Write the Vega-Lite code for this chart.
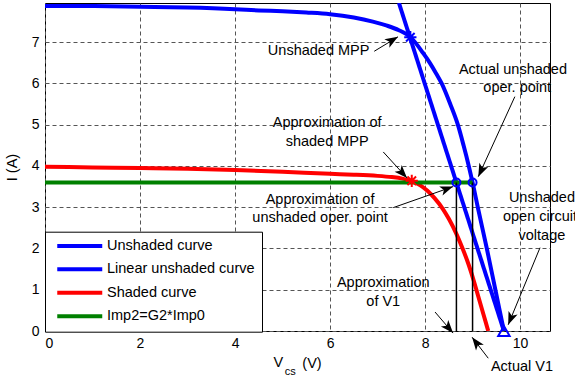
{
  "$schema": "https://vega.github.io/schema/vega-lite/v6.json",
  "width": 505,
  "height": 328,
  "autosize": {"type": "none"},
  "padding": {"left": 45, "top": 3, "right": 25, "bottom": 50},
  "background": "white",
  "config": {
    "font": "Liberation Sans",
    "view": {"stroke": "black", "strokeWidth": 1},
    "axis": {
      "grid": true,
      "gridColor": "#555555",
      "gridDash": [4, 3],
      "gridWidth": 1,
      "domain": false,
      "ticks": false,
      "labelFontSize": 14,
      "labelColor": "black",
      "labelFont": "Liberation Sans",
      "titleFont": "Liberation Sans",
      "titleFontSize": 14.5,
      "titleFontWeight": "normal",
      "titleColor": "black"
    },
    "text": {"font": "Liberation Sans", "fontSize": 14.5, "color": "black"}
  },
  "datasets": {
    "curves": [
      {"series": "Unshaded curve", "V": 0, "I": 7.88},
      {"series": "Unshaded curve", "V": 1, "I": 7.875},
      {"series": "Unshaded curve", "V": 2, "I": 7.86},
      {"series": "Unshaded curve", "V": 3, "I": 7.84},
      {"series": "Unshaded curve", "V": 4, "I": 7.8},
      {"series": "Unshaded curve", "V": 4.5, "I": 7.77},
      {"series": "Unshaded curve", "V": 5, "I": 7.75},
      {"series": "Unshaded curve", "V": 5.5, "I": 7.72},
      {"series": "Unshaded curve", "V": 6, "I": 7.68},
      {"series": "Unshaded curve", "V": 6.5, "I": 7.6},
      {"series": "Unshaded curve", "V": 6.9, "I": 7.5},
      {"series": "Unshaded curve", "V": 7.2, "I": 7.4},
      {"series": "Unshaded curve", "V": 7.45, "I": 7.29},
      {"series": "Unshaded curve", "V": 7.6, "I": 7.2},
      {"series": "Unshaded curve", "V": 7.69, "I": 7.12},
      {"series": "Unshaded curve", "V": 7.79, "I": 7.0},
      {"series": "Unshaded curve", "V": 7.95, "I": 6.75},
      {"series": "Unshaded curve", "V": 8.1, "I": 6.5},
      {"series": "Unshaded curve", "V": 8.23, "I": 6.25},
      {"series": "Unshaded curve", "V": 8.35, "I": 6.0},
      {"series": "Unshaded curve", "V": 8.53, "I": 5.5},
      {"series": "Unshaded curve", "V": 8.69, "I": 5.0},
      {"series": "Unshaded curve", "V": 8.81, "I": 4.5},
      {"series": "Unshaded curve", "V": 8.92, "I": 4.0},
      {"series": "Unshaded curve", "V": 9.0, "I": 3.6},
      {"series": "Unshaded curve", "V": 9.11, "I": 3.0},
      {"series": "Unshaded curve", "V": 9.3, "I": 2.0},
      {"series": "Unshaded curve", "V": 9.48, "I": 1.0},
      {"series": "Unshaded curve", "V": 9.66, "I": 0},
      {"series": "Linear unshaded curve", "V": 7.45, "I": 7.95},
      {"series": "Linear unshaded curve", "V": 9.66, "I": 0},
      {"series": "Shaded curve", "V": 0, "I": 3.98},
      {"series": "Shaded curve", "V": 1, "I": 3.965},
      {"series": "Shaded curve", "V": 2, "I": 3.95},
      {"series": "Shaded curve", "V": 3, "I": 3.93},
      {"series": "Shaded curve", "V": 4, "I": 3.9},
      {"series": "Shaded curve", "V": 5, "I": 3.86},
      {"series": "Shaded curve", "V": 6, "I": 3.81},
      {"series": "Shaded curve", "V": 6.5, "I": 3.79},
      {"series": "Shaded curve", "V": 7, "I": 3.76},
      {"series": "Shaded curve", "V": 7.3, "I": 3.73},
      {"series": "Shaded curve", "V": 7.5, "I": 3.7},
      {"series": "Shaded curve", "V": 7.72, "I": 3.63},
      {"series": "Shaded curve", "V": 7.9, "I": 3.53},
      {"series": "Shaded curve", "V": 8.05, "I": 3.4},
      {"series": "Shaded curve", "V": 8.2, "I": 3.22},
      {"series": "Shaded curve", "V": 8.38, "I": 2.95},
      {"series": "Shaded curve", "V": 8.5, "I": 2.72},
      {"series": "Shaded curve", "V": 8.65, "I": 2.38},
      {"series": "Shaded curve", "V": 8.79, "I": 2.0},
      {"series": "Shaded curve", "V": 8.92, "I": 1.6},
      {"series": "Shaded curve", "V": 9.03, "I": 1.2},
      {"series": "Shaded curve", "V": 9.13, "I": 0.8},
      {"series": "Shaded curve", "V": 9.23, "I": 0.4},
      {"series": "Shaded curve", "V": 9.33, "I": 0},
      {"series": "Imp2=G2*Imp0", "V": 0, "I": 3.6},
      {"series": "Imp2=G2*Imp0", "V": 9.0, "I": 3.6}
    ],
    "vlines": [
      {"V": 8.66, "I": 0, "I2": 3.6},
      {"V": 9.0, "I": 0, "I2": 3.6}
    ],
    "arrows": [
      {"V": 6.93, "I": 6.78, "V2": 7.43, "I2": 7.13, "angle": 59},
      {"V": 9.89, "I": 5.68, "V2": 9.12, "I2": 3.74, "angle": 205},
      {"V": 7.12, "I": 4.34, "V2": 7.62, "I2": 3.71, "angle": 137},
      {"V": 7.33, "I": 2.99, "V2": 8.59, "I2": 3.5, "angle": 70},
      {"V": 10.42, "I": 2.02, "V2": 9.75, "I2": 0.15, "angle": 202},
      {"V": 8.21, "I": 0.46, "V2": 8.59, "I2": -0.05, "angle": 139},
      {"V": 9.33, "I": -0.66, "V2": 8.99, "I2": -0.15, "angle": 323}
    ],
    "labels": [
      {"V": 5.76, "I": 6.78, "text": "Unshaded MPP"},
      {"V": 9.85, "I": 6.33, "text": "Actual unshaded"},
      {"V": 9.94, "I": 5.9, "text": "oper. point"},
      {"V": 5.94, "I": 5.05, "text": "Approximation of"},
      {"V": 5.94, "I": 4.59, "text": "shaded MPP"},
      {"V": 5.79, "I": 3.18, "text": "Approximation of"},
      {"V": 5.79, "I": 2.74, "text": "unshaded oper. point"},
      {"V": 10.46, "I": 3.23, "text": "Unshaded"},
      {"V": 10.42, "I": 2.77, "text": "open circuit"},
      {"V": 10.46, "I": 2.31, "text": "voltage"},
      {"V": 7.12, "I": 1.17, "text": "Approximation"},
      {"V": 7.12, "I": 0.7, "text": "of V1"},
      {"V": 10.04, "I": -0.87, "text": "Actual V1"},
      {"V": 4.91, "I": -0.78, "text": "V"},
      {"V": 5.62, "I": -0.8, "text": "(V)"}
    ]
  },
  "encoding": {
    "x": {
      "field": "V",
      "type": "quantitative",
      "scale": {"domain": [0, 10.63], "nice": false, "zero": false},
      "axis": {"values": [0, 2, 4, 6, 8, 10], "title": null, "labelPadding": 5}
    },
    "y": {
      "field": "I",
      "type": "quantitative",
      "scale": {"domain": [0, 7.95], "nice": false, "zero": false},
      "axis": {"values": [0, 1, 2, 3, 4, 5, 6, 7], "title": "I (A)", "labelPadding": 6, "titlePadding": 12}
    }
  },
  "layer": [
    {
      "data": {"name": "curves"},
      "mark": {"type": "line", "strokeWidth": 4, "clip": true, "interpolate": "monotone"},
      "encoding": {
        "color": {
          "field": "series",
          "type": "nominal",
          "scale": {
            "domain": ["Unshaded curve", "Linear unshaded curve", "Shaded curve", "Imp2=G2*Imp0"],
            "range": ["#0000ff", "#0000ff", "#ff0000", "#008000"]
          },
          "legend": {
            "orient": "none",
            "legendX": 0,
            "legendY": 228.7,
            "title": null,
            "symbolType": "M-0.4,0H8.6",
            "symbolStrokeWidth": 4,
            "symbolSize": 100,
            "labelFontSize": 14.5,
            "labelColor": "black",
            "labelFont": "Liberation Sans",
            "strokeColor": "black",
            "fillColor": "white",
            "padding": 7,
            "rowPadding": 6.4,
            "labelOffset": 40.5
          }
        }
      }
    },
    {
      "data": {"name": "vlines"},
      "mark": {"type": "rule", "color": "black", "strokeWidth": 1.5},
      "encoding": {"y2": {"field": "I2"}}
    },
    {
      "data": {"values": [{"V": 7.69, "I": 7.12}]},
      "mark": {"type": "point", "shape": "M-1,0L1,0M0,-1L0,1M-0.7,-0.7L0.7,0.7M-0.7,0.7L0.7,-0.7", "size": 150, "color": "#0000ff", "strokeWidth": 2, "filled": false, "opacity": 1}
    },
    {
      "data": {"values": [{"V": 7.72, "I": 3.64}]},
      "mark": {"type": "point", "shape": "M-1,0L1,0M0,-1L0,1M-0.7,-0.7L0.7,0.7M-0.7,0.7L0.7,-0.7", "size": 150, "color": "#ff0000", "strokeWidth": 2, "filled": false, "opacity": 1}
    },
    {
      "data": {"values": [{"V": 8.66, "I": 3.6}, {"V": 9.0, "I": 3.6}]},
      "mark": {"type": "point", "shape": "circle", "size": 64, "color": "#0000ff", "strokeWidth": 2, "filled": false, "opacity": 1}
    },
    {
      "data": {"values": [{"V": 9.66, "I": 0.0}]},
      "mark": {"type": "point", "shape": "triangle-up", "size": 130, "color": "#0000ff", "strokeWidth": 2, "filled": false, "opacity": 1, "clip": false}
    },
    {
      "data": {"name": "arrows"},
      "mark": {"type": "rule", "color": "black", "strokeWidth": 1, "clip": false},
      "encoding": {"x2": {"field": "V2"}, "y2": {"field": "I2"}}
    },
    {
      "data": {"name": "arrows"},
      "mark": {"type": "point", "shape": "M0,0L0.75,2L0,1.5L-0.75,2Z", "size": 169, "color": "black", "filled": true, "opacity": 1, "clip": false},
      "encoding": {
        "x": {"field": "V2", "type": "quantitative"},
        "y": {"field": "I2", "type": "quantitative"},
        "angle": {"field": "angle", "type": "quantitative", "scale": null}
      }
    },
    {
      "data": {"name": "labels"},
      "mark": {"type": "text", "align": "center", "baseline": "middle", "fontSize": 14.5, "clip": false},
      "encoding": {"text": {"field": "text"}}
    },
    {
      "data": {"values": [{"V": 5.16, "I": -1.0, "text": "cs"}]},
      "mark": {"type": "text", "align": "center", "baseline": "middle", "fontSize": 11, "clip": false},
      "encoding": {"text": {"field": "text"}}
    }
  ]
}
